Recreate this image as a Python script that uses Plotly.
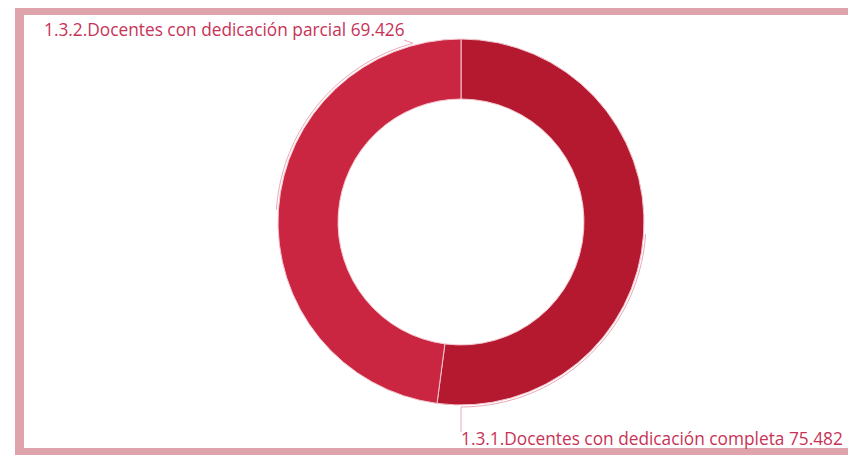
import numpy as np
import plotly.graph_objects as go

labels = ["1.3.1.Docentes con dedicación completa", "1.3.2.Docentes con dedicación parcial"]
values = [75.482, 69.426]
value_text = ["75.482", "69.426"]
colors = ["#B5192F", "#CB2641"]

# page has an 8px body margin, so everything is shifted back by 8px
OFF = 8
W, H = 848, 447
cx, cy, R = 461, 222, 183
border = "#DFA3AB"
text_col = "#C73357"


def px(x, y):
    # reference pixel -> paper coords
    return (x - OFF) / W, 1 - (y - OFF) / H


def arc_path(a0, a1, r, tail):
    # angles clockwise from 12 o'clock, degrees
    pts = []
    for a in np.linspace(a0, a1, 40):
        t = np.radians(a)
        pts.append(px(cx + r * np.sin(t), cy - r * np.cos(t)))
    pts.append(px(*tail))
    return "M " + " L ".join(f"{x:.5f},{y:.5f}" for x, y in pts)


x0d, y1d = px(cx - R, cy - R)
x1d, y0d = px(cx + R, cy + R)
fig = go.Figure(go.Pie(
    labels=labels, values=values, hole=0.672, sort=False, direction="clockwise",
    rotation=0, marker=dict(colors=colors, line=dict(color="#F3C7CF", width=1)),
    textinfo="none", hoverinfo="label+value", showlegend=False,
    domain=dict(x=[x0d, x1d], y=[y0d, y1d]),
))

total = sum(values)
mid1 = values[0] / total * 360 / 2
mid2 = (values[0] + (total - values[0]) / 2) / total * 360


def band(xa, ya, xb, yb):
    (p0, q1), (p1, q0) = px(xa, ya), px(xb, yb)
    return dict(type="rect", xref="paper", yref="paper", x0=p0, x1=p1, y0=q0, y1=q1,
                fillcolor=border, line_width=0, layer="below")


shapes = [
    band(15, 5, 870, 15),
    band(15, 5, 24, 470),
    band(15, 448, 870, 470),
    dict(type="path", xref="paper", yref="paper", path=arc_path(mid1, 180, R + 2, (461, 432)),
         line=dict(color="#E8A9B6", width=1)),
    dict(type="path", xref="paper", yref="paper", path=arc_path(mid2, 345, R + 2, (404, 40)),
         line=dict(color="#E8A9B6", width=1)),
]

fnt = dict(family="Open Sans", size=17.3, color=text_col)
ax, ay = px(42, 30)
bx, by = px(459, 438)
annotations = [
    dict(text=f"{labels[1]} {value_text[1]}", x=ax, y=ay, xref="paper", yref="paper",
         xanchor="left", yanchor="middle", showarrow=False, font=fnt),
    dict(text=f"{labels[0]} {value_text[0]}", x=bx, y=by, xref="paper", yref="paper",
         xanchor="left", yanchor="middle", showarrow=False, font=fnt),
]

fig.update_layout(
    width=W, height=H, margin=dict(l=0, r=0, t=0, b=0),
    paper_bgcolor="white", plot_bgcolor="white",
    shapes=shapes, annotations=annotations,
)

fig.write_html("out.html")
